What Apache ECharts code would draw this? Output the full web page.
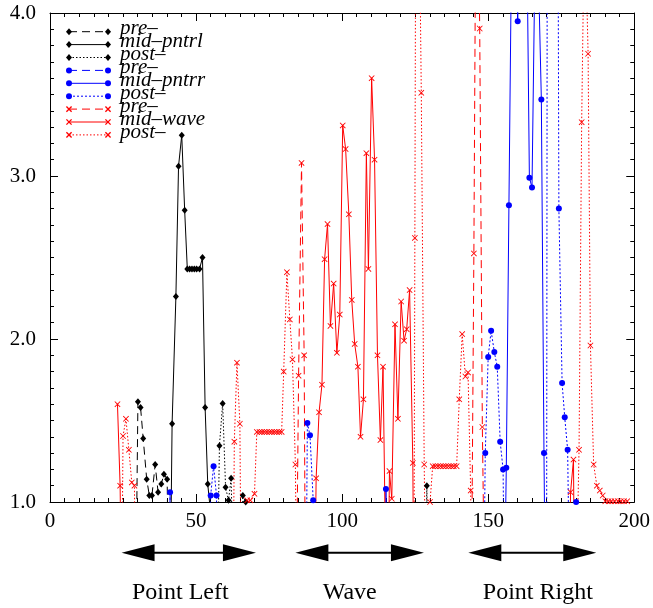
<!DOCTYPE html>
<html><head><meta charset="utf-8">
<script src="https://cdn.jsdelivr.net/npm/echarts@6/dist/echarts.min.js"></script>
<style>html,body{margin:0;padding:0;background:#fff}#c{width:653px;height:608px}</style>
</head><body><div id="c"></div><script>
// ---- data (x, ratio); values below 1.0 / above 4.0 fall outside the plotted range ----
const blackPre = [[29.3,0.3],[30.1,1.615],[31.0,1.58],[31.9,1.39],[33.1,1.14],[34.0,1.04],[34.9,1.04],[36.0,1.23],[37.0,1.06],[38.1,1.11],[39.0,1.17],[40.1,1.14],[40.6,0.5]];
const blackMid = [[41.2,0.5],[41.8,1.48],[43.1,2.26],[44.0,3.06],[45.1,3.25],[46.1,2.79],[47.0,2.43],[47.8,2.43],[48.6,2.43],[49.4,2.43],[50.2,2.43],[51.2,2.43],[52.2,2.50],[53.1,1.58],[54.0,1.11],[55.0,0.93]];
const blackPost = [[57.3,0.5],[58.0,1.345],[59.1,1.605],[60.1,1.09],[61.1,1.01],[62.0,1.145],[62.8,0.5],[65.4,0.5],[66.0,1.04],[67.0,1.0],[67.8,0.5],[128.5,0.5],[129.0,1.10],[129.5,0.5]];
const bluePre = [[40.8,0.5],[41.1,1.06],[41.3,0.5]];
const blueMid = [[114.8,0.5],[115.0,1.08],[115.3,0.5],[155.6,0.5],[156.2,1.21],[157.1,2.82],[158.0,4.4],[159.0,4.8],[160.1,3.95],[161.0,4.6],[162.0,5.0],[163.0,4.9],[164.1,2.99],[165.0,2.93],[166.0,4.3],[167.0,4.4],[168.2,3.47],[169.1,1.30],[169.6,0.3]];
const bluePost = [[54.7,0.5],[55.0,1.04],[56.0,1.22],[57.0,1.04],[57.3,0.5],[87.7,0.5],[88.1,1.485],[89.0,1.41],[90.1,1.01],[90.5,0.5],[148.5,0.5],[149.0,1.30],[150.0,1.89],[151.0,2.05],[152.1,1.92],[153.1,1.83],[154.1,1.37],[155.1,1.20],[155.5,0.5],[170.0,0.5],[171.0,20],[172.0,20],[173.0,10],[174.2,2.80],[175.3,1.73],[176.2,1.52],[177.2,1.32],[177.8,0.5],[179.6,0.5],[180.1,1.0],[180.6,0.5]];
const redPre = [[84.4,0.5],[85.1,1.775],[86.1,3.08],[87.0,1.90],[87.4,0.5],[144.3,0.5],[145.1,2.525],[146.0,5.5],[147.1,3.905],[148.0,1.46],[148.7,0.5]];
const redMid = [[23.1,1.60],[24.0,1.10],[24.4,0.5],[90.7,0.5],[91.1,1.145],[92.1,1.55],[93.1,1.72],[94.0,2.49],[95.0,2.705],[96.0,2.08],[97.1,2.34],[98.2,1.915],[99.2,2.15],[100.2,3.31],[101.2,3.165],[102.3,2.765],[103.3,2.24],[104.3,1.97],[105.4,1.83],[106.3,1.40],[107.3,1.63],[108.3,3.14],[109.0,2.43],[110.1,3.60],[111.1,3.10],[112.1,1.90],[113.1,1.38],[114.0,1.83],[115.0,0.5],[115.8,0.5],[116.2,1.19],[117.0,1.02],[118.1,2.09],[119.1,1.51],[120.2,2.23],[121.2,1.99],[122.1,2.06],[123.1,2.30],[124.2,1.24],[124.5,0.5],[177.8,0.5],[178.2,1.06],[179.2,1.26],[179.5,0.5]];
const redPost = [[24.6,0.5],[25.0,1.405],[26.0,1.51],[27.0,1.32],[28.0,1.12],[28.9,1.10],[29.2,0.5],
 [62.7,0.5],[63.1,1.37],[64.0,1.855],[65.0,1.48],[65.4,0.5],
 [66.7,0.5],[67.5,1.01],[68.6,1.01],[70.0,1.05],[70.8,1.43],[71.7,1.43],[72.5,1.43],[73.4,1.43],[74.2,1.43],[75.1,1.43],[75.9,1.43],[76.8,1.43],[77.6,1.43],[78.5,1.43],[79.3,1.43],[80.0,1.80],[81.1,2.41],[82.1,2.12],[83.0,1.875],[84.0,1.23],[84.4,0.5],
 [124.6,0.5],[124.9,2.62],[125.5,7],[126.2,5],[127.1,3.51],[128.1,1.23],[128.6,0.5],
 [129.8,0.5],[130.1,1.0],[131.0,1.22],[131.9,1.22],[132.8,1.22],[133.7,1.22],[134.6,1.22],[135.5,1.22],[136.4,1.22],[137.3,1.22],[138.2,1.22],[139.2,1.22],[140.1,1.63],[141.1,2.03],[142.2,1.77],[143.1,1.795],[144.0,1.07],[144.4,0.5],
 [180.2,0.5],[181.1,1.32],[182.0,3.33],[183.0,4.67],[184.2,3.75],[185.0,1.96],[186.1,1.23],[187.2,1.10],[188.2,1.07],[189.2,1.04],[190.1,1.005],[191.2,1.005],[192.2,1.005],[193.3,1.005],[194.4,1.005],[195.4,1.005],[196.5,1.005],[197.6,1.005]];

const seriesNames = ['pre\u2013','mid\u2013pntrl','post\u2013','pre\u2013','mid\u2013pntrr','post\u2013','pre\u2013','mid\u2013wave','post\u2013'];
const seriesData = [blackPre, blackMid, blackPost, bluePre, blueMid, bluePost, redPre, redMid, redPost];
const xRange = [0, 200], xStep = 50;
const yRange = [1, 4], yStep = 1;
const regionNames = ['Point Left', 'Wave', 'Point Right'];
const regionFrom = [24.5, 84, 143.2];
const regionTo = [70.5, 128, 187];
const regionLabelX = [44.6, 102.6, 167];

// ---- styles ----
const colors = ['#000000','#000000','#000000','#0000ff','#0000ff','#0000ff','#ff0000','#ff0000','#ff0000'];
const dashes = [[8,5],'solid',[1.5,2],[8,5],'solid',[2,2],[8,5],'solid',[1.5,2]];
const XPATH = 'path://M1,0L5,4L9,0L10,1L6,5L10,9L9,10L5,6L1,10L0,9L4,5L0,1Z';
const symbols = ['diamond','diamond','diamond','circle','circle','circle',XPATH,XPATH,XPATH];
const symSizes = [[6,7],[6,7],[6,7],6,6,6,6,6,6];
const FONT = '"Liberation Serif", "Times New Roman", serif';

const chart = echarts.init(document.getElementById('c'), null, {renderer:'canvas'});
const axisCommon = {
  type:'value', splitLine:{show:false},
  axisLine:{show:true, onZero:false, lineStyle:{color:'#000', width:1}},
  axisTick:{show:true, inside:true, length:8, lineStyle:{color:'#000', width:1}},
  minorTick:{show:true, splitNumber:10, length:4, lineStyle:{color:'#000', width:1}}
};
const series = seriesData.map((d,i)=>({
  name: seriesNames[i] + '#' + i, type:'line', data:d, xAxisIndex:0, yAxisIndex:0,
  symbol: symbols[i], symbolSize: symSizes[i], showSymbol:true, showAllSymbol:true,
  symbolKeepAspect:true, clip:true, animation:false, silent:true,
  lineStyle:{color:colors[i], width:1, type:dashes[i]},
  itemStyle:{color:colors[i], borderWidth:0}
}));
chart.setOption({
  backgroundColor:'#fff', animation:false,
  grid:{left:50, right:16, top:13, bottom:106, show:false},
  xAxis:[
    Object.assign({}, axisCommon, {min:xRange[0], max:xRange[1], interval:xStep, position:'bottom',
      axisLabel:{color:'#000', fontFamily:FONT, fontSize:21, margin:9}}),
    Object.assign({}, axisCommon, {min:xRange[0], max:xRange[1], interval:xStep, position:'top',
      axisLabel:{show:false}})
  ],
  yAxis:[
    Object.assign({}, axisCommon, {min:yRange[0], max:yRange[1], interval:yStep, position:'left',
      axisLabel:{color:'#000', fontFamily:FONT, fontSize:21, margin:14, formatter:v=>v.toFixed(1)}}),
    Object.assign({}, axisCommon, {min:yRange[0], max:yRange[1], interval:yStep, position:'right',
      axisLabel:{show:false}})
  ],
  series: series
});

// ---- legend (gnuplot-style key) and region arrows ----
const g = [];
const legX0 = 69, legX1 = 108, legTextX = 120, legY0 = 31.7, legDY = 12.9;
function marker(i, x, y){
  const c = colors[i];
  if (i < 3) return {type:'polygon', shape:{points:[[x,y-3.5],[x+3,y],[x,y+3.5],[x-3,y]]}, style:{fill:c}};
  if (i < 6) return {type:'circle', shape:{cx:x, cy:y, r:3}, style:{fill:c}};
  return {type:'group', children:[
    {type:'line', shape:{x1:x-2.6,y1:y-2.6,x2:x+2.6,y2:y+2.6}, style:{stroke:c, lineWidth:1.3}},
    {type:'line', shape:{x1:x-2.6,y1:y+2.6,x2:x+2.6,y2:y-2.6}, style:{stroke:c, lineWidth:1.3}}]};
}
seriesNames.forEach((n,i)=>{
  const y = legY0 + i*legDY;
  const dash = dashes[i] === 'solid' ? null : dashes[i];
  g.push({type:'line', shape:{x1:legX0, y1:y, x2:legX1, y2:y}, style:{stroke:colors[i], lineWidth:1, lineDash:dash}});
  g.push(marker(i, legX0, y));
  g.push(marker(i, legX1, y));
  g.push({type:'text', x:legTextX, y:y-2.8, style:{text:n, font:'italic 21px ' + FONT, fill:'#000', verticalAlign:'middle', align:'left'}});
});
const arrowY = 552.7, headL = 33, headH = 8.5;
regionNames.forEach((n,i)=>{
  const xa = chart.convertToPixel({xAxisIndex:0}, regionFrom[i]);
  const xb = chart.convertToPixel({xAxisIndex:0}, regionTo[i]);
  const xt = chart.convertToPixel({xAxisIndex:0}, regionLabelX[i]);
  g.push({type:'line', shape:{x1:xa+headL-2, y1:arrowY, x2:xb-headL+2, y2:arrowY}, style:{stroke:'#000', lineWidth:2}});
  g.push({type:'polygon', shape:{points:[[xa,arrowY],[xa+headL,arrowY-headH],[xa+headL,arrowY+headH]]}, style:{fill:'#000'}});
  g.push({type:'polygon', shape:{points:[[xb,arrowY],[xb-headL,arrowY-headH],[xb-headL,arrowY+headH]]}, style:{fill:'#000'}});
  g.push({type:'text', x:xt, y:593, style:{text:n, font:'24px ' + FONT, fill:'#000', align:'center', verticalAlign:'middle'}});
});
chart.setOption({graphic:{elements:g}});
</script></body></html>
